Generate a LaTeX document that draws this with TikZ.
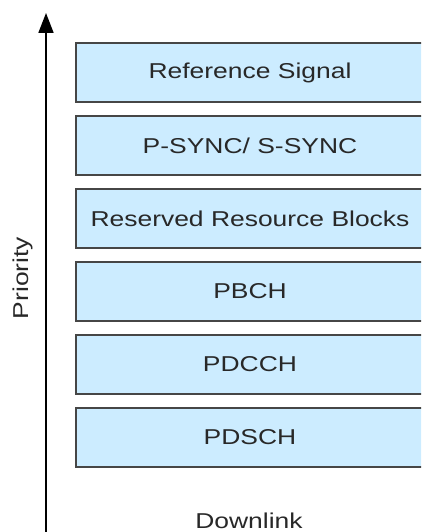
\documentclass[tikz,border=0pt]{standalone}
\usepackage{fontspec}
\setmainfont[FakeStretch=1.23]{Liberation Sans}
\usepackage{xcolor}
\usetikzlibrary{arrows.meta,positioning}

\definecolor{chanfill}{RGB}{204,236,255}
\definecolor{chanline}{RGB}{70,70,70}
\definecolor{chantext}{RGB}{40,40,40}

\begin{document}
\begin{tikzpicture}[
x=1pt, y=1pt,
node distance=14pt,
chan/.style={draw=chanline, line width=1.8pt, fill=chanfill, text=chantext, minimum width=348pt, minimum height=59pt, inner sep=0pt, outer sep=0pt, font=\fontsize{21.5}{24}\selectfont},
lbl/.style={font=\fontsize{21.5}{24}\selectfont, text=chantext, inner sep=0pt},
arr/.style={-{Triangle[length=20pt, width=15pt]}, line width=1.8pt}
]
\useasboundingbox (0,0) rectangle (421,532);
\clip (0,0) rectangle (421,532);

\node[chan, anchor=north west] (refsig) at (76,489) {Reference Signal};
\node[chan, below=of refsig] (sync) {P-SYNC/ S-SYNC};
\node[chan, below=of sync] (rrb) {Reserved Resource Blocks};
\node[chan, below=of rrb] (pbch) {PBCH};
\node[chan, below=of pbch] (pdcch) {PDCCH};
\node[chan, below=of pdcch] (pdsch) {PDSCH};

% priority axis
\coordinate (axisbase) at (46,-5);
\coordinate (axistop) at (46,519);
\draw[arr] (axisbase) -- (axistop);

\node[lbl, rotate=90] (prio) at (23,254) {Priority};
\node[lbl, anchor=base] (dl) at (249,4) {Downlink};

\end{tikzpicture}
\end{document}
